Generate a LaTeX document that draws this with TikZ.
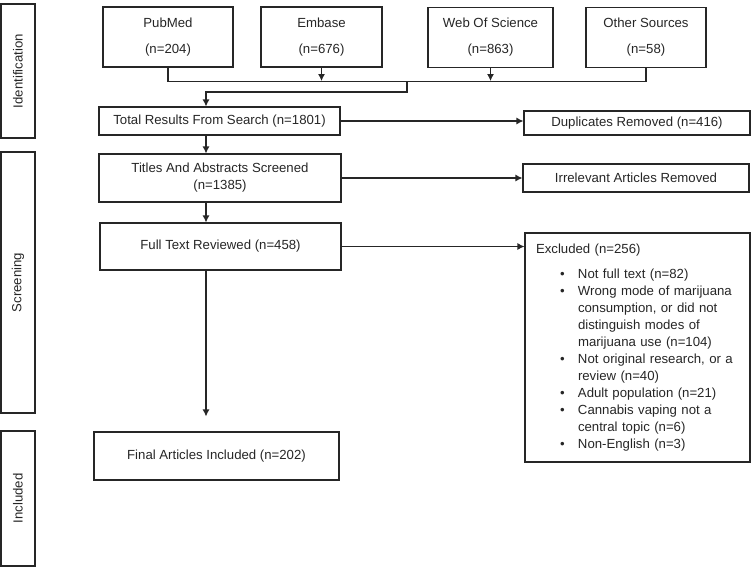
\documentclass[tikz,border=0pt]{standalone}
\usepackage{fontspec}
\setmainfont{Liberation Sans}
\usetikzlibrary{arrows.meta}

\newcommand\exitem{\hspace*{24pt}\makebox[18pt][l]{\textbullet}}
\newcommand\exmore{\hspace*{42pt}}

\tikzset{
  box/.style={draw,rectangle,align=center,inner sep=2pt},
  src/.style={box,minimum height=60pt},
  stage/.style={draw,rectangle,rotate=90,minimum width=#1,minimum height=34pt,inner sep=0pt},
  exbox/.style={draw,rectangle,minimum width=225pt,minimum height=229pt,text width=203pt,inner xsep=11pt,align=left},
}

\begin{document}
\begin{tikzpicture}[x=1pt,y=-1pt,->,>={Latex[length=7pt,width=7pt]},line width=1.1pt,color=black!85,font=\fontsize{13.2}{17}\selectfont]

\useasboundingbox (0,0) rectangle (752,568);

% stages
\node[stage=134] (ident) at (18,71) {Identification};
\node[stage=261] (screen) at (18,282.5) {Screening};
\node[stage=135] (incl) at (18,498.5) {Included};

% sources
\node[src,minimum width=130pt] (pubmed) at (168,37) {PubMed\\[9pt](n=204)};
\node[src,minimum width=121pt] (embase) at (321.5,37) {Embase\\[9pt](n=676)};
\node[src,minimum width=125pt] (wos) at (490.5,37.5) {Web Of Science\\[9pt](n=863)};
\node[src,minimum width=120pt] (other) at (646,37.5) {Other Sources\\[9pt](n=58)};

\coordinate (join) at (407,81);
\coordinate (split) at (407,92);
\coordinate (spine) at (206,0);

% main column
\node[box,minimum width=241pt,minimum height=28pt] (total) at (219.5,121) {Total Results From Search (n=1801)};
\node[box,minimum width=242pt,minimum height=48pt] (titles) at (220,178) {Titles And Abstracts Screened\\(n=1385)};
\node[box,minimum width=241pt,minimum height=47pt] (full) at (220.5,246.5) {Full Text Reviewed (n=458)};
\node[box,minimum width=245pt,minimum height=48pt] (final) at (216.5,456) {Final Articles Included (n=202)};

% removed
\node[box,minimum width=226pt,minimum height=24pt] (dup) at (637,123) {Duplicates Removed (n=416)};
\node[box,minimum width=226pt,minimum height=28pt] (irrel) at (636,178) {Irrelevant Articles Removed};
\node[exbox] (excl) at (637.5,347.5) {Excluded (n=256)\\[8pt]
\exitem Not full text (n=82)\\
\exitem Wrong mode of marijuana\\
\exmore consumption, or did not\\
\exmore distinguish modes of\\
\exmore marijuana use (n=104)\\
\exitem Not original research, or a\\
\exmore review (n=40)\\
\exitem Adult population (n=21)\\
\exitem Cannabis vaping not a\\
\exmore central topic (n=6)\\
\exitem Non-English (n=3)};

\path [draw,-]
    (pubmed.south) -- ++(0,14) -| (other.south)
;
\draw (embase.south) -- (embase.south |- join);
\draw (wos.south) -- (wos.south |- join);
\draw (join) -- (split) -| (spine |- total.north);

\draw (total.east) -- (total.east -| dup.west);
\draw (spine |- total.south) -- (spine |- titles.north);
\draw (titles.east) -- (irrel.west);
\draw (spine |- titles.south) -- (spine |- full.north);
\draw (full.east) -- (full.east -| excl.west);
\draw[shorten >=15pt] (spine |- full.south) -- (spine |- final.north);

\end{tikzpicture}
\end{document}
